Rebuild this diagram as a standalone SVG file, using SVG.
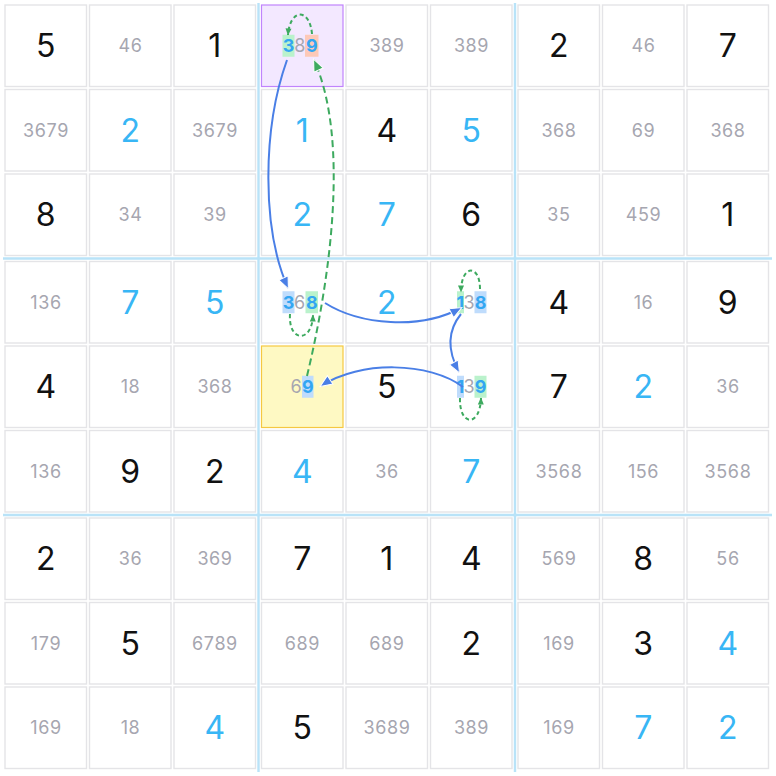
<svg xmlns="http://www.w3.org/2000/svg" width="776" height="776" viewBox="0 0 776 776">
<style>
.c{fill:#fff;stroke:#e4e4e7;stroke-width:1.4}
.g{font-family:Inter,"Noto Sans",sans-serif;font-size:32px;font-weight:400;fill:#111;text-anchor:middle}
.p{font-family:Inter,"Noto Sans",sans-serif;font-size:32px;font-weight:400;fill:#38b6f5;text-anchor:middle}
.k{font-family:Inter,"Noto Sans",sans-serif;font-size:18px;font-weight:400;fill:#a6a6b0;text-anchor:middle;letter-spacing:0.6px}
.h{font-family:Inter,"Noto Sans",sans-serif;font-size:18px;font-weight:700;fill:#33a6f2;text-anchor:middle}
.hg{fill:#baf2cc}.hb{fill:#bfdcfc}.hs{fill:#fdc9b8}
.box{stroke:#b9e3f8;stroke-width:2.4}
.bl{fill:none;stroke:#4a7fe6;stroke-width:2}
.gd{fill:none;stroke:#3daa5f;stroke-width:2;stroke-dasharray:7 4}
.gl{fill:none;stroke:#3daa5f;stroke-width:2;stroke-dasharray:4 3}
</style>
<defs>
<marker id="ab" viewBox="0 0 12 10" refX="11" refY="5" markerWidth="12" markerHeight="10" markerUnits="userSpaceOnUse" orient="auto" style="overflow:visible"><path d="M0,0 L12,5 L0,10 z" fill="#4a7fe6" stroke="#fff" stroke-width="1"/></marker>
<marker id="ag" viewBox="0 0 12 10" refX="11" refY="5" markerWidth="12" markerHeight="10" markerUnits="userSpaceOnUse" orient="auto" style="overflow:visible"><path d="M0,0 L12,5 L0,10 z" fill="#3daa5f" stroke="#fff" stroke-width="1"/></marker>
<marker id="as" viewBox="0 0 7 6" refX="6.5" refY="3" markerWidth="7" markerHeight="6" markerUnits="userSpaceOnUse" orient="auto" style="overflow:visible"><path d="M0,0 L7,3 L0,6 z" fill="#3daa5f"/></marker>
</defs>
<rect width="776" height="776" fill="#fff"/>
<g id="cells">
<!-- Row 1 -->
<g id="r1c1" transform="translate(5,5)"><rect class="c" width="81.5" height="81.5"/><text class="g" x="40.75" y="52.25">5</text></g>
<g id="r1c2" transform="translate(89.5,5)"><rect class="c" width="81.5" height="81.5"/><text class="k" x="41" y="47.25">46</text></g>
<g id="r1c3" transform="translate(174,5)"><rect class="c" width="81.5" height="81.5"/><text class="g" x="40.75" y="52.25">1</text></g>
<g id="r1c4" transform="translate(261.5,5)"><rect width="81.5" height="81.5" fill="#f3e8ff" stroke="#c084fc" stroke-width="1.2"/><rect class="hg" x="21" y="29.75" width="12" height="22"/><rect class="hs" x="43.5" y="29.75" width="13.5" height="22"/><text class="h" x="27" y="47.25">3</text><text class="k" x="38.5" y="47.25">8</text><text class="h" x="50.25" y="47.25">9</text></g>
<g id="r1c5" transform="translate(346,5)"><rect class="c" width="81.5" height="81.5"/><text class="k" x="41" y="47.25">389</text></g>
<g id="r1c6" transform="translate(430.5,5)"><rect class="c" width="81.5" height="81.5"/><text class="k" x="41" y="47.25">389</text></g>
<g id="r1c7" transform="translate(518,5)"><rect class="c" width="81.5" height="81.5"/><text class="g" x="40.75" y="52.25">2</text></g>
<g id="r1c8" transform="translate(602.5,5)"><rect class="c" width="81.5" height="81.5"/><text class="k" x="41" y="47.25">46</text></g>
<g id="r1c9" transform="translate(687,5)"><rect class="c" width="81.5" height="81.5"/><text class="g" x="40.75" y="52.25">7</text></g>
<!-- Row 2 -->
<g id="r2c1" transform="translate(5,89.5)"><rect class="c" width="81.5" height="81.5"/><text class="k" x="41" y="47.25">3679</text></g>
<g id="r2c2" transform="translate(89.5,89.5)"><rect class="c" width="81.5" height="81.5"/><text class="p" x="40.75" y="52.25">2</text></g>
<g id="r2c3" transform="translate(174,89.5)"><rect class="c" width="81.5" height="81.5"/><text class="k" x="41" y="47.25">3679</text></g>
<g id="r2c4" transform="translate(261.5,89.5)"><rect class="c" width="81.5" height="81.5"/><text class="p" x="40.75" y="52.25">1</text></g>
<g id="r2c5" transform="translate(346,89.5)"><rect class="c" width="81.5" height="81.5"/><text class="g" x="40.75" y="52.25">4</text></g>
<g id="r2c6" transform="translate(430.5,89.5)"><rect class="c" width="81.5" height="81.5"/><text class="p" x="40.75" y="52.25">5</text></g>
<g id="r2c7" transform="translate(518,89.5)"><rect class="c" width="81.5" height="81.5"/><text class="k" x="41" y="47.25">368</text></g>
<g id="r2c8" transform="translate(602.5,89.5)"><rect class="c" width="81.5" height="81.5"/><text class="k" x="41" y="47.25">69</text></g>
<g id="r2c9" transform="translate(687,89.5)"><rect class="c" width="81.5" height="81.5"/><text class="k" x="41" y="47.25">368</text></g>
<!-- Row 3 -->
<g id="r3c1" transform="translate(5,174)"><rect class="c" width="81.5" height="81.5"/><text class="g" x="40.75" y="52.25">8</text></g>
<g id="r3c2" transform="translate(89.5,174)"><rect class="c" width="81.5" height="81.5"/><text class="k" x="41" y="47.25">34</text></g>
<g id="r3c3" transform="translate(174,174)"><rect class="c" width="81.5" height="81.5"/><text class="k" x="41" y="47.25">39</text></g>
<g id="r3c4" transform="translate(261.5,174)"><rect class="c" width="81.5" height="81.5"/><text class="p" x="40.75" y="52.25">2</text></g>
<g id="r3c5" transform="translate(346,174)"><rect class="c" width="81.5" height="81.5"/><text class="p" x="40.75" y="52.25">7</text></g>
<g id="r3c6" transform="translate(430.5,174)"><rect class="c" width="81.5" height="81.5"/><text class="g" x="40.75" y="52.25">6</text></g>
<g id="r3c7" transform="translate(518,174)"><rect class="c" width="81.5" height="81.5"/><text class="k" x="41" y="47.25">35</text></g>
<g id="r3c8" transform="translate(602.5,174)"><rect class="c" width="81.5" height="81.5"/><text class="k" x="41" y="47.25">459</text></g>
<g id="r3c9" transform="translate(687,174)"><rect class="c" width="81.5" height="81.5"/><text class="g" x="40.75" y="52.25">1</text></g>
<!-- Row 4 -->
<g id="r4c1" transform="translate(5,261.5)"><rect class="c" width="81.5" height="81.5"/><text class="k" x="41" y="47.25">136</text></g>
<g id="r4c2" transform="translate(89.5,261.5)"><rect class="c" width="81.5" height="81.5"/><text class="p" x="40.75" y="52.25">7</text></g>
<g id="r4c3" transform="translate(174,261.5)"><rect class="c" width="81.5" height="81.5"/><text class="p" x="40.75" y="52.25">5</text></g>
<g id="r4c4" transform="translate(261.5,261.5)"><rect class="c" width="81.5" height="81.5"/><rect class="hb" x="21" y="29.75" width="12" height="22"/><rect class="hg" x="44" y="29.75" width="12.5" height="22"/><text class="h" x="27" y="47.25">3</text><text class="k" x="38.5" y="47.25">6</text><text class="h" x="50.25" y="47.25">8</text></g>
<g id="r4c5" transform="translate(346,261.5)"><rect class="c" width="81.5" height="81.5"/><text class="p" x="40.75" y="52.25">2</text></g>
<g id="r4c6" transform="translate(430.5,261.5)"><rect class="c" width="81.5" height="81.5"/><rect class="hg" x="26.5" y="29.75" width="7" height="22"/><rect class="hb" x="44" y="29.75" width="12" height="22"/><text class="h" x="30" y="47.25">1</text><text class="k" x="38.75" y="47.25">3</text><text class="h" x="50" y="47.25">8</text></g>
<g id="r4c7" transform="translate(518,261.5)"><rect class="c" width="81.5" height="81.5"/><text class="g" x="40.75" y="52.25">4</text></g>
<g id="r4c8" transform="translate(602.5,261.5)"><rect class="c" width="81.5" height="81.5"/><text class="k" x="41" y="47.25">16</text></g>
<g id="r4c9" transform="translate(687,261.5)"><rect class="c" width="81.5" height="81.5"/><text class="g" x="40.75" y="52.25">9</text></g>
<!-- Row 5 -->
<g id="r5c1" transform="translate(5,346)"><rect class="c" width="81.5" height="81.5"/><text class="g" x="40.75" y="52.25">4</text></g>
<g id="r5c2" transform="translate(89.5,346)"><rect class="c" width="81.5" height="81.5"/><text class="k" x="41" y="47.25">18</text></g>
<g id="r5c3" transform="translate(174,346)"><rect class="c" width="81.5" height="81.5"/><text class="k" x="41" y="47.25">368</text></g>
<g id="r5c4" transform="translate(261.5,346)"><rect width="81.5" height="81.5" fill="#fef9c3" stroke="#f5c842" stroke-width="1.2"/><rect class="hb" x="40.5" y="29.75" width="11.5" height="22"/><text class="k" x="35" y="47.25">6</text><text class="h" x="46.25" y="47.25">9</text></g>
<g id="r5c5" transform="translate(346,346)"><rect class="c" width="81.5" height="81.5"/><text class="g" x="40.75" y="52.25">5</text></g>
<g id="r5c6" transform="translate(430.5,346)"><rect class="c" width="81.5" height="81.5"/><rect class="hb" x="26.5" y="29.75" width="7" height="22"/><rect class="hg" x="44" y="29.75" width="12" height="22"/><text class="h" x="30" y="47.25">1</text><text class="k" x="38.75" y="47.25">3</text><text class="h" x="50" y="47.25">9</text></g>
<g id="r5c7" transform="translate(518,346)"><rect class="c" width="81.5" height="81.5"/><text class="g" x="40.75" y="52.25">7</text></g>
<g id="r5c8" transform="translate(602.5,346)"><rect class="c" width="81.5" height="81.5"/><text class="p" x="40.75" y="52.25">2</text></g>
<g id="r5c9" transform="translate(687,346)"><rect class="c" width="81.5" height="81.5"/><text class="k" x="41" y="47.25">36</text></g>
<!-- Row 6 -->
<g id="r6c1" transform="translate(5,430.5)"><rect class="c" width="81.5" height="81.5"/><text class="k" x="41" y="47.25">136</text></g>
<g id="r6c2" transform="translate(89.5,430.5)"><rect class="c" width="81.5" height="81.5"/><text class="g" x="40.75" y="52.25">9</text></g>
<g id="r6c3" transform="translate(174,430.5)"><rect class="c" width="81.5" height="81.5"/><text class="g" x="40.75" y="52.25">2</text></g>
<g id="r6c4" transform="translate(261.5,430.5)"><rect class="c" width="81.5" height="81.5"/><text class="p" x="40.75" y="52.25">4</text></g>
<g id="r6c5" transform="translate(346,430.5)"><rect class="c" width="81.5" height="81.5"/><text class="k" x="41" y="47.25">36</text></g>
<g id="r6c6" transform="translate(430.5,430.5)"><rect class="c" width="81.5" height="81.5"/><text class="p" x="40.75" y="52.25">7</text></g>
<g id="r6c7" transform="translate(518,430.5)"><rect class="c" width="81.5" height="81.5"/><text class="k" x="41" y="47.25">3568</text></g>
<g id="r6c8" transform="translate(602.5,430.5)"><rect class="c" width="81.5" height="81.5"/><text class="k" x="41" y="47.25">156</text></g>
<g id="r6c9" transform="translate(687,430.5)"><rect class="c" width="81.5" height="81.5"/><text class="k" x="41" y="47.25">3568</text></g>
<!-- Row 7 -->
<g id="r7c1" transform="translate(5,518)"><rect class="c" width="81.5" height="81.5"/><text class="g" x="40.75" y="52.25">2</text></g>
<g id="r7c2" transform="translate(89.5,518)"><rect class="c" width="81.5" height="81.5"/><text class="k" x="41" y="47.25">36</text></g>
<g id="r7c3" transform="translate(174,518)"><rect class="c" width="81.5" height="81.5"/><text class="k" x="41" y="47.25">369</text></g>
<g id="r7c4" transform="translate(261.5,518)"><rect class="c" width="81.5" height="81.5"/><text class="g" x="40.75" y="52.25">7</text></g>
<g id="r7c5" transform="translate(346,518)"><rect class="c" width="81.5" height="81.5"/><text class="g" x="40.75" y="52.25">1</text></g>
<g id="r7c6" transform="translate(430.5,518)"><rect class="c" width="81.5" height="81.5"/><text class="g" x="40.75" y="52.25">4</text></g>
<g id="r7c7" transform="translate(518,518)"><rect class="c" width="81.5" height="81.5"/><text class="k" x="41" y="47.25">569</text></g>
<g id="r7c8" transform="translate(602.5,518)"><rect class="c" width="81.5" height="81.5"/><text class="g" x="40.75" y="52.25">8</text></g>
<g id="r7c9" transform="translate(687,518)"><rect class="c" width="81.5" height="81.5"/><text class="k" x="41" y="47.25">56</text></g>
<!-- Row 8 -->
<g id="r8c1" transform="translate(5,602.5)"><rect class="c" width="81.5" height="81.5"/><text class="k" x="41" y="47.25">179</text></g>
<g id="r8c2" transform="translate(89.5,602.5)"><rect class="c" width="81.5" height="81.5"/><text class="g" x="40.75" y="52.25">5</text></g>
<g id="r8c3" transform="translate(174,602.5)"><rect class="c" width="81.5" height="81.5"/><text class="k" x="41" y="47.25">6789</text></g>
<g id="r8c4" transform="translate(261.5,602.5)"><rect class="c" width="81.5" height="81.5"/><text class="k" x="41" y="47.25">689</text></g>
<g id="r8c5" transform="translate(346,602.5)"><rect class="c" width="81.5" height="81.5"/><text class="k" x="41" y="47.25">689</text></g>
<g id="r8c6" transform="translate(430.5,602.5)"><rect class="c" width="81.5" height="81.5"/><text class="g" x="40.75" y="52.25">2</text></g>
<g id="r8c7" transform="translate(518,602.5)"><rect class="c" width="81.5" height="81.5"/><text class="k" x="41" y="47.25">169</text></g>
<g id="r8c8" transform="translate(602.5,602.5)"><rect class="c" width="81.5" height="81.5"/><text class="g" x="40.75" y="52.25">3</text></g>
<g id="r8c9" transform="translate(687,602.5)"><rect class="c" width="81.5" height="81.5"/><text class="p" x="40.75" y="52.25">4</text></g>
<!-- Row 9 -->
<g id="r9c1" transform="translate(5,687)"><rect class="c" width="81.5" height="81.5"/><text class="k" x="41" y="47.25">169</text></g>
<g id="r9c2" transform="translate(89.5,687)"><rect class="c" width="81.5" height="81.5"/><text class="k" x="41" y="47.25">18</text></g>
<g id="r9c3" transform="translate(174,687)"><rect class="c" width="81.5" height="81.5"/><text class="p" x="40.75" y="52.25">4</text></g>
<g id="r9c4" transform="translate(261.5,687)"><rect class="c" width="81.5" height="81.5"/><text class="g" x="40.75" y="52.25">5</text></g>
<g id="r9c5" transform="translate(346,687)"><rect class="c" width="81.5" height="81.5"/><text class="k" x="41" y="47.25">3689</text></g>
<g id="r9c6" transform="translate(430.5,687)"><rect class="c" width="81.5" height="81.5"/><text class="k" x="41" y="47.25">389</text></g>
<g id="r9c7" transform="translate(518,687)"><rect class="c" width="81.5" height="81.5"/><text class="k" x="41" y="47.25">169</text></g>
<g id="r9c8" transform="translate(602.5,687)"><rect class="c" width="81.5" height="81.5"/><text class="p" x="40.75" y="52.25">7</text></g>
<g id="r9c9" transform="translate(687,687)"><rect class="c" width="81.5" height="81.5"/><text class="p" x="40.75" y="52.25">2</text></g>
</g>
<g id="box-lines">
<line class="box" x1="258.5" y1="3" x2="258.5" y2="772"/>
<line class="box" x1="515" y1="3" x2="515" y2="772"/>
<line class="box" x1="3" y1="258.5" x2="772" y2="258.5"/>
<line class="box" x1="3" y1="515" x2="772" y2="515"/>
</g>
<g id="connectors">
<path class="bl" d="M287,60 C262,130 262,230 288,288" marker-end="url(#ab)"/>
<path class="gd" d="M307,376 C330,280 350,140 314,60" marker-end="url(#ag)"/>
<path class="bl" d="M325,303 C360,325 420,330 461,308" marker-end="url(#ab)"/>
<path class="bl" d="M461,314 C448,330 447,350 459,372" marker-end="url(#ab)"/>
<path class="bl" d="M463,387 C430,362 360,360 321,386" marker-end="url(#ab)"/>
<path class="gl" d="M312,34 C310,8 290,8 288,35" marker-end="url(#as)"/>
<path class="gl" d="M290,314 C288,342 312,344 313,315" marker-end="url(#as)"/>
<path class="gl" d="M480,289 C480,264 461,264 461,292" marker-end="url(#as)"/>
<path class="gl" d="M460,398 C459,426 480,428 481,398" marker-end="url(#as)"/>
</g>
</svg>
